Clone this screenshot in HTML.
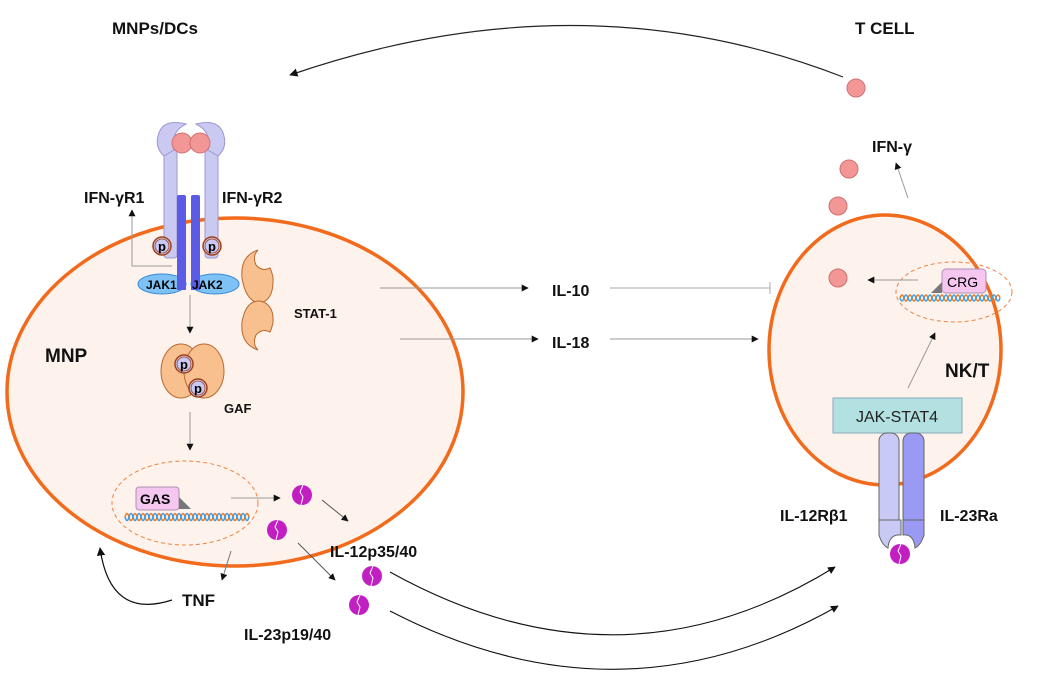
<!DOCTYPE html>
<html><head><meta charset="utf-8"><style>
body{margin:0;background:#fff;}
svg{display:block;font-family:"Liberation Sans",Arial,sans-serif;}
.b{font-weight:bold;fill:#111;}
</style></head><body>
<svg width="1050" height="677" viewBox="0 0 1050 677" xmlns="http://www.w3.org/2000/svg">
<defs>
<marker id="a" viewBox="0 0 10 10" refX="9" refY="5" markerWidth="7" markerHeight="7" orient="auto-start-reverse"><path d="M0,0 L10,5 L0,10 z" fill="#111"/></marker>
<g id="pb"><circle r="10" fill="#c21fc2"/><path d="M1,-10 L-2,-3 L1,2 L-1,10" stroke="#fff" stroke-width="1" fill="none"/></g>
<g id="p"><circle r="9" fill="#c9c9f5" stroke="#a0401a" stroke-width="1.5"/><circle r="7" fill="none" stroke="#a0401a" stroke-width="0.8"/><text x="0" y="5" text-anchor="middle" font-size="13" font-weight="bold" fill="#000">p</text></g>
</defs>

<text x="112" y="34" class="b" font-size="17">MNPs/DCs</text>
<text x="855" y="34" class="b" font-size="17">T CELL</text>

<path d="M843,77 Q580,-25 290,75" stroke="#222" stroke-width="1.2" fill="none" marker-end="url(#a)"/>

<!-- MNP cell -->
<ellipse cx="235" cy="392" rx="228" ry="174" fill="#fdf3ec" stroke="#f26a1b" stroke-width="3.5"/>
<text x="45" y="362" class="b" font-size="19">MNP</text>

<!-- receptors -->
<rect x="164" y="150" width="13" height="108" rx="3" fill="#c9c9f2" stroke="#9a9ad0"/>
<rect x="205" y="150" width="13" height="108" rx="3" fill="#c9c9f2" stroke="#9a9ad0"/>
<path d="M158,136 Q162,118 186,124 Q170,132 174,150 L164,156 Q155,148 158,136z" fill="#c9c9f2" stroke="#9a9ad0"/>
<path d="M224,136 Q220,118 196,124 Q212,132 208,150 L218,156 Q227,148 224,136z" fill="#c9c9f2" stroke="#9a9ad0"/>
<circle cx="182" cy="143" r="10" fill="#f29696" stroke="#d07070"/>
<circle cx="200" cy="143" r="10" fill="#f29696" stroke="#d07070"/>
<rect x="177" y="195" width="9" height="80" rx="2" fill="#5b5be6"/>
<rect x="191" y="195" width="9" height="80" rx="2" fill="#5b5be6"/>
<use href="#p" x="162" y="246"/>
<use href="#p" x="212" y="246"/>
<ellipse cx="162" cy="284" rx="24" ry="10" fill="#7ec2f5" stroke="#3a8ad8"/>
<ellipse cx="215" cy="284" rx="24" ry="10" fill="#7ec2f5" stroke="#3a8ad8"/>
<rect x="177" y="270" width="9" height="20" fill="#5b5be6"/>
<rect x="191" y="270" width="9" height="20" fill="#5b5be6"/>
<text x="146" y="289" font-size="12" font-weight="bold">JAK1</text>
<text x="192" y="289" font-size="12" font-weight="bold">JAK2</text>
<path d="M172,266 L132,266 L132,210" stroke="#999" fill="none" marker-end="url(#a)"/>
<text x="84" y="203" class="b" font-size="16">IFN-γR1</text>
<text x="222" y="203" class="b" font-size="16">IFN-γR2</text>

<!-- STAT-1 -->
<path d="M258,250 Q240,256 242,278 Q246,302 260,303 Q274,300 273,278 Q272,272 270,268 Q262,272 256,265 Q252,256 258,250z" fill="#f8c08e" stroke="#b86a30"/>
<path d="M258,350 Q240,344 242,322 Q246,300 260,301 Q274,304 273,322 Q272,328 270,332 Q262,328 256,335 Q252,344 258,350z" fill="#f8c08e" stroke="#b86a30"/>
<text x="294" y="318" class="b" font-size="13">STAT-1</text>

<line x1="190" y1="295" x2="190" y2="333" stroke="#999" marker-end="url(#a)"/>
<!-- GAF -->
<ellipse cx="181" cy="371" rx="20" ry="27" fill="#f8c08e" stroke="#b86a30"/>
<ellipse cx="204" cy="371" rx="20" ry="27" fill="#f8c08e" stroke="#b86a30"/>
<use href="#p" x="184" y="364"/>
<use href="#p" x="198" y="388"/>
<text x="224" y="413" class="b" font-size="13">GAF</text>
<line x1="190" y1="412" x2="190" y2="450" stroke="#999" marker-end="url(#a)"/>

<!-- GAS nucleus -->
<ellipse cx="185" cy="503" rx="73" ry="42" fill="none" stroke="#f08040" stroke-dasharray="4,3"/>
<path d="M125,517 q2,-7 4,0 t4,0 t4,0 t4,0 t4,0 t4,0 t4,0 t4,0 t4,0 t4,0 t4,0 t4,0 t4,0 t4,0 t4,0 t4,0 t4,0 t4,0 t4,0 t4,0 t4,0 t4,0 t4,0 t4,0 t4,0 t4,0 t4,0 t4,0 t4,0 t4,0 t4,0" stroke="#f07a20" stroke-width="1.6" fill="none"/>
<path d="M125,517 q2,7 4,0 t4,0 t4,0 t4,0 t4,0 t4,0 t4,0 t4,0 t4,0 t4,0 t4,0 t4,0 t4,0 t4,0 t4,0 t4,0 t4,0 t4,0 t4,0 t4,0 t4,0 t4,0 t4,0 t4,0 t4,0 t4,0 t4,0 t4,0 t4,0 t4,0 t4,0" stroke="#3aa0e8" stroke-width="1.6" fill="none"/>
<rect x="136" y="487" width="43" height="23" rx="3" fill="#f5c6f0" stroke="#b090b0"/>
<path d="M179,509 L191,509 L179,497z" fill="#777"/>
<text x="140" y="504" font-size="14" font-weight="bold">GAS</text>
<line x1="231" y1="498" x2="280" y2="498" stroke="#999" marker-end="url(#a)"/>

<use href="#pb" x="302" y="495"/>
<use href="#pb" x="277" y="530"/>
<use href="#pb" x="372" y="576"/>
<use href="#pb" x="359" y="605"/>
<line x1="322" y1="500" x2="348" y2="521" stroke="#555" marker-end="url(#a)"/>
<line x1="298" y1="543" x2="335" y2="580" stroke="#555" marker-end="url(#a)"/>
<text x="330" y="557" class="b" font-size="16">IL-12p35/40</text>
<text x="244" y="640" class="b" font-size="16">IL-23p19/40</text>

<line x1="231" y1="551" x2="222" y2="580" stroke="#777" marker-end="url(#a)"/>
<text x="182" y="606" class="b" font-size="17">TNF</text>
<path d="M172,600 Q110,620 100,548" stroke="#111" stroke-width="1.2" fill="none" marker-end="url(#a)"/>

<!-- IL-10 / IL-18 -->
<line x1="380" y1="288" x2="528" y2="288" stroke="#999" marker-end="url(#a)"/>
<text x="552" y="296" class="b" font-size="16">IL-10</text>
<line x1="610" y1="288" x2="770" y2="288" stroke="#aaa"/>
<line x1="770" y1="282" x2="770" y2="294" stroke="#aaa"/>
<line x1="400" y1="339" x2="538" y2="339" stroke="#999" marker-end="url(#a)"/>
<text x="552" y="348" class="b" font-size="16">IL-18</text>
<line x1="610" y1="339" x2="758" y2="339" stroke="#999" marker-end="url(#a)"/>

<path d="M390,572 Q620,700 835,567" stroke="#111" stroke-width="1.1" fill="none" marker-end="url(#a)"/>
<path d="M390,611 Q620,730 838,606" stroke="#111" stroke-width="1.1" fill="none" marker-end="url(#a)"/>

<!-- NK/T cell -->
<ellipse cx="885" cy="350" rx="116" ry="135" fill="#fdf3ec" stroke="#f26a1b" stroke-width="3.5"/>
<text x="945" y="377" class="b" font-size="19">NK/T</text>
<circle cx="856" cy="88" r="9" fill="#f29696" stroke="#d07070"/>
<circle cx="849" cy="169" r="9" fill="#f29696" stroke="#d07070"/>
<circle cx="838" cy="206" r="9" fill="#f29696" stroke="#d07070"/>
<circle cx="838" cy="278" r="9" fill="#f29696" stroke="#d07070"/>
<text x="872" y="152" class="b" font-size="16">IFN-γ</text>
<line x1="908" y1="198" x2="896" y2="163" stroke="#999" marker-end="url(#a)"/>
<ellipse cx="954" cy="292" rx="58" ry="30" fill="none" stroke="#f08040" stroke-dasharray="4,3"/>
<path d="M900,298 q2,-6 4,0 t4,0 t4,0 t4,0 t4,0 t4,0 t4,0 t4,0 t4,0 t4,0 t4,0 t4,0 t4,0 t4,0 t4,0 t4,0 t4,0 t4,0 t4,0 t4,0 t4,0 t4,0 t4,0 t4,0 t4,0" stroke="#f07a20" stroke-width="1.5" fill="none"/>
<path d="M900,298 q2,6 4,0 t4,0 t4,0 t4,0 t4,0 t4,0 t4,0 t4,0 t4,0 t4,0 t4,0 t4,0 t4,0 t4,0 t4,0 t4,0 t4,0 t4,0 t4,0 t4,0 t4,0 t4,0 t4,0 t4,0 t4,0" stroke="#3aa0e8" stroke-width="1.5" fill="none"/>
<rect x="942" y="269" width="44" height="24" rx="4" fill="#f5c6f0" stroke="#b090b0"/>
<path d="M931,293 L942,293 L942,282z" fill="#777"/>
<text x="947" y="287" font-size="14">CRG</text>
<line x1="918" y1="280" x2="868" y2="280" stroke="#999" marker-end="url(#a)"/>
<line x1="908" y1="388" x2="935" y2="333" stroke="#999" marker-end="url(#a)"/>
<rect x="833" y="398" width="129" height="35" fill="#b3e0e0" stroke="#8ab"/>
<text x="897" y="422" text-anchor="middle" font-size="16" fill="#222">JAK-STAT4</text>
<rect x="879" y="433" width="20" height="100" rx="8" fill="#c9c9f5" stroke="#666"/>
<rect x="903" y="433" width="21" height="100" rx="8" fill="#9a9af5" stroke="#666"/>
<path d="M879,520 L879,535 Q882,545 888,548 Q889,534 901,535 L901,520z" fill="#c9c9f5" stroke="#666"/>
<path d="M924,520 L924,535 Q921,545 915,548 Q914,534 903,535 L903,520z" fill="#9a9af5" stroke="#666"/>
<use href="#pb" x="900" y="554"/>
<text x="780" y="521" class="b" font-size="16">IL-12Rβ1</text>
<text x="940" y="521" class="b" font-size="16">IL-23Ra</text>
</svg>
</body></html>
